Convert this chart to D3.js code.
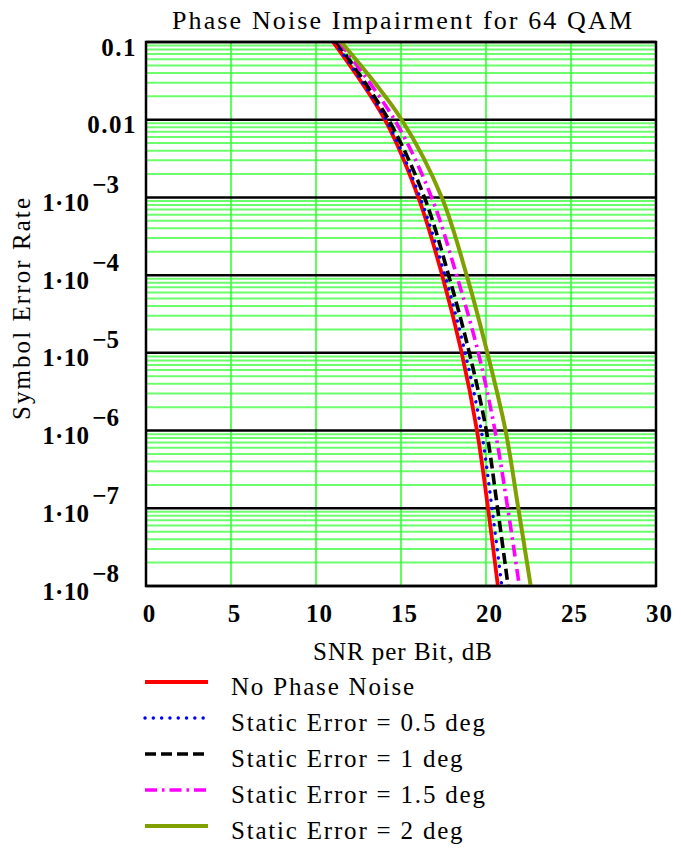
<!DOCTYPE html>
<html>
<head>
<meta charset="utf-8">
<script src="https://cdn.jsdelivr.net/npm/d3@7"></script>
<style>
  body { margin: 0; background: #fff; }
  text { font-family: 'Liberation Serif', 'Times New Roman', Times, Tinos, 'Nimbus Roman', serif; fill: #000; }
</style>
</head>
<body>
<svg id="chart" width="681" height="848"></svg>
<script>
const serLevels = [1e-1, 1e-2, 1e-3, 1e-4, 1e-5, 1e-6, 1e-7, 1e-8]

// SNR per bit (dB) at each level above
const noPhaseNoise = [11.0, 14.05, 16.02, 17.42, 18.57, 19.47, 20.12, 20.7]
const staticErr05 = [11.1, 14.12, 16.12, 17.58, 18.77, 19.72, 20.35, 20.93]
const staticErr1 = [11.22, 14.27, 16.38, 17.8, 19.02, 20.02, 20.68, 21.3]
const staticErr15 = [11.37, 14.62, 16.8, 18.27, 19.55, 20.53, 21.28, 21.96]
const staticErr2 = [11.48, 15.04, 17.4, 18.86, 20.08, 21.15, 21.9, 22.63]

const seriesNames = [
  'No Phase Noise',
  'Static Error = 0.5 deg',
  'Static Error = 1 deg',
  'Static Error = 1.5 deg',
  'Static Error = 2 deg'
]

const xTicks = [0, 5, 10, 15, 20, 25, 30]
const yDecades = [1e-1, 1e-2, 1e-3, 1e-4, 1e-5, 1e-6, 1e-7, 1e-8]
const yTickLabels = ['0.1', '0.01', '-3', '-4', '-5', '-6', '-7', '-8']

const margin = { top: 42, right: 25, bottom: 262, left: 146 }
const svgWidth = 681
const svgHeight = 848
const width = svgWidth - margin.left - margin.right
const height = svgHeight - margin.top - margin.bottom

const serif = "'Liberation Serif', 'Times New Roman', Times, Tinos, 'Nimbus Roman', serif"

const styles = [
  { color: '#ff0000', width: 3.8, dash: null, cap: 'butt' },
  { color: '#0000ff', width: 3.4, dash: '0.1 8.2', cap: 'round' },
  { color: '#000000', width: 3.6, dash: '11 5', cap: 'butt' },
  { color: '#ff00ff', width: 3.6, dash: '12 5 2.5 5', cap: 'butt' },
  { color: '#7fa000', width: 4, dash: null, cap: 'butt' }
]

const series = [noPhaseNoise, staticErr05, staticErr1, staticErr15, staticErr2].map(
  (vals, i) => ({
    name: seriesNames[i],
    style: styles[i],
    points: vals.map((snr, j) => ({ snr: snr, ser: serLevels[j] }))
  })
)

const svg = d3.select('#chart')
svg.append('rect').attr('width', svgWidth).attr('height', svgHeight).attr('fill', '#fff')

const x = d3.scaleLinear().domain([0, 30]).range([0, width])
const y = d3.scaleLog().domain([1e-8, 0.1]).range([height, 0])

const g = svg.append('g').attr('transform', `translate(${margin.left},${margin.top})`)

// minor log grid (2..9 in every decade)
const minorTicks = []
yDecades.slice(1).forEach((d) => {
  for (let k = 2; k <= 9; k++) minorTicks.push(d * k)
})
g.append('g')
  .selectAll('line')
  .data(minorTicks)
  .enter()
  .append('line')
  .attr('x1', 0)
  .attr('x2', width)
  .attr('y1', (d) => y(d))
  .attr('y2', (d) => y(d))
  .attr('stroke', '#6cff6c')
  .attr('stroke-width', 2)

// vertical grid
g.append('g')
  .selectAll('line')
  .data(xTicks.slice(1, -1))
  .enter()
  .append('line')
  .attr('x1', (d) => x(d))
  .attr('x2', (d) => x(d))
  .attr('y1', 0)
  .attr('y2', height)
  .attr('stroke', '#33ff33')
  .attr('stroke-width', 1.6)

// decade lines
g.append('g')
  .selectAll('line')
  .data(yDecades)
  .enter()
  .append('line')
  .attr('x1', 0)
  .attr('x2', width)
  .attr('y1', (d) => y(d))
  .attr('y2', (d) => y(d))
  .attr('stroke', '#000')
  .attr('stroke-width', 2.5)

svg.append('clipPath')
  .attr('id', 'plot-clip')
  .append('rect')
  .attr('width', width)
  .attr('height', height)

const line = d3
  .line()
  .x((d) => x(d.snr))
  .y((d) => y(d.ser))
  .curve(d3.curveCatmullRom.alpha(0.5))

g.append('g')
  .attr('clip-path', 'url(#plot-clip)')
  .selectAll('path')
  .data(series)
  .enter()
  .append('path')
  .attr('d', (d) => line(d.points))
  .attr('fill', 'none')
  .attr('stroke', (d) => d.style.color)
  .attr('stroke-width', (d) => d.style.width)
  .attr('stroke-dasharray', (d) => d.style.dash)
  .attr('stroke-linecap', (d) => d.style.cap)

// frame
g.append('rect')
  .attr('width', width)
  .attr('height', height)
  .attr('fill', 'none')
  .attr('stroke', '#000')
  .attr('stroke-width', 2.5)

// x axis labels
const xAxis = g
  .append('g')
  .attr('transform', `translate(0,${height})`)
  .call(d3.axisBottom(x).tickValues(xTicks).tickSize(0))
xAxis.select('.domain').remove()
xAxis
  .selectAll('text')
  .attr('dy', null)
  .attr('y', 36)
  .attr('dx', 3)
  .style('font-family', serif)
  .style('font-size', '25px')
  .style('font-weight', 'bold')
  .style('letter-spacing', '1px')

// y axis labels, Mathcad style 1·10 with raised exponent
const yAxis = g
  .append('g')
  .call(d3.axisLeft(y).tickValues(yDecades).tickSize(0).tickFormat(() => ''))
yAxis.select('.domain').remove()
yAxis.selectAll('.tick text').each(function (d, i) {
  const t = d3
    .select(this)
    .attr('dy', null)
    .attr('y', 13)
    .style('font-family', serif)
    .style('font-size', '25px')
    .style('font-weight', 'bold')
  const label = yTickLabels[i]
  if (i < 2) {
    t.attr('x', -9).style('letter-spacing', '1.5px').text(label)
  } else {
    t.attr('x', -27)
    t.append('tspan').style('letter-spacing', '0.3px').text('1\u00b710')
    t.append('tspan').attr('dx', 3).attr('dy', -18).text('\u2212' + label.slice(1))
  }
})

// titles
svg.append('text')
  .attr('x', 172)
  .attr('y', 29)
  .attr('textLength', 460)
  .attr('lengthAdjust', 'spacing')
  .style('font-size', '26px')
  .text('Phase Noise Impairment for 64 QAM')

svg.append('text')
  .attr('x', 313)
  .attr('y', 660)
  .attr('textLength', 179)
  .attr('lengthAdjust', 'spacing')
  .style('font-size', '25px')
  .text('SNR per Bit, dB')

svg.append('text')
  .attr('transform', 'translate(30,420) rotate(-90)')
  .attr('textLength', 222)
  .attr('lengthAdjust', 'spacing')
  .style('font-size', '25px')
  .text('Symbol Error Rate')

// legend
const legend = svg
  .append('g')
  .selectAll('g')
  .data(series)
  .enter()
  .append('g')
  .attr('transform', (d, i) => `translate(145,${682 + i * 36})`)

legend
  .append('line')
  .attr('x1', 0)
  .attr('x2', 63)
  .attr('stroke', (d) => d.style.color)
  .attr('stroke-width', (d) => d.style.width)
  .attr('stroke-dasharray', (d) => d.style.dash)
  .attr('stroke-linecap', (d) => d.style.cap)

legend
  .append('text')
  .attr('x', 86)
  .attr('y', 13)
  .style('font-size', '25px')
  .style('letter-spacing', '1.8px')
  .text((d) => d.name)
</script>
</body>
</html>
